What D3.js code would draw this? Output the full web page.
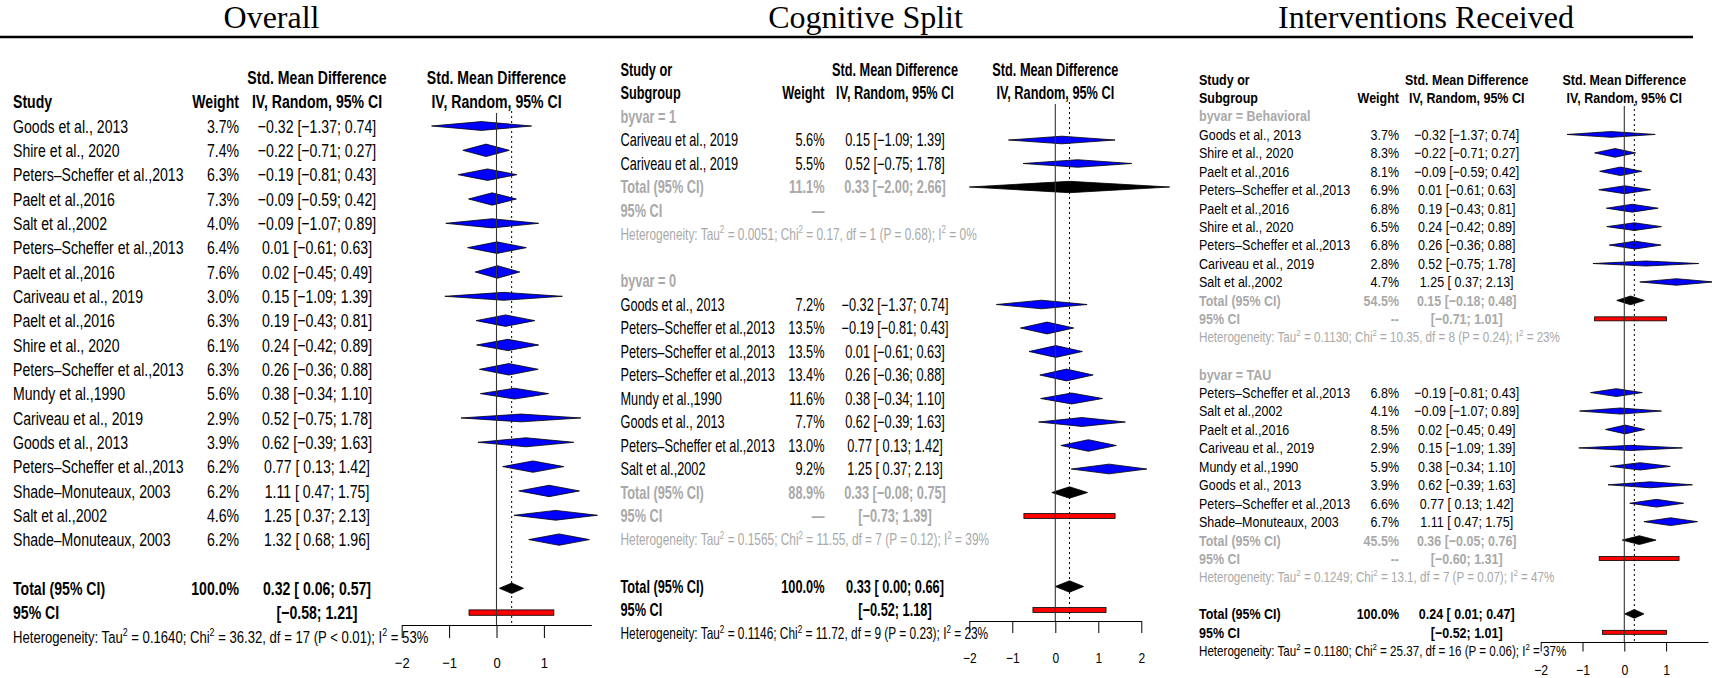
<!DOCTYPE html>
<html>
<head>
<meta charset="utf-8">
<script src="https://cdn.jsdelivr.net/npm/d3@7"></script>
<style>
  body { margin: 0; background: #fff; }
  svg { display: block; }
</style>
</head>
<body>
<svg id="chart" width="1712" height="678"></svg>
<script>
// ---------- data: Overall ----------
const overallStudies = ["Goods et al., 2013", "Shire et al., 2020", "Peters\u2013Scheffer et al.,2013", "Paelt et al.,2016",
  "Salt et al.,2002", "Peters\u2013Scheffer et al.,2013", "Paelt et al.,2016", "Cariveau et al., 2019", "Paelt et al.,2016",
  "Shire et al., 2020", "Peters\u2013Scheffer et al.,2013", "Mundy et al.,1990", "Cariveau et al., 2019", "Goods et al., 2013",
  "Peters\u2013Scheffer et al.,2013", "Shade\u2013Monuteaux, 2003", "Salt et al.,2002", "Shade\u2013Monuteaux, 2003"];
const overallWeight = [3.7, 7.4, 6.3, 7.3, 4.0, 6.4, 7.6, 3.0, 6.3, 6.1, 6.3, 5.6, 2.9, 3.9, 6.2, 6.2, 4.6, 6.2];
const overallTE = [-0.32, -0.22, -0.19, -0.09, -0.09, 0.01, 0.02, 0.15, 0.19, 0.24, 0.26, 0.38, 0.52, 0.62, 0.77, 1.11, 1.25, 1.32];
const overallLower = [-1.37, -0.71, -0.81, -0.59, -1.07, -0.61, -0.45, -1.09, -0.43, -0.42, -0.36, -0.34, -0.75, -0.39, 0.13, 0.47, 0.37, 0.68];
const overallUpper = [0.74, 0.27, 0.43, 0.42, 0.89, 0.63, 0.49, 1.39, 0.81, 0.89, 0.88, 1.10, 1.78, 1.63, 1.42, 1.75, 2.13, 1.96];
const overallTotal = [100.0, 0.32, 0.06, 0.57];   // weight, te, lower, upper
const overallPI = [-0.58, 1.21];
const overallHet = ["0.1640", "36.32", "17", "P < 0.01", "53%"];

// ---------- data: Cognitive Split ----------
const cogStudies = ["Cariveau et al., 2019", "Cariveau et al., 2019", "Goods et al., 2013", "Peters\u2013Scheffer et al.,2013",
  "Peters\u2013Scheffer et al.,2013", "Peters\u2013Scheffer et al.,2013", "Mundy et al.,1990", "Goods et al., 2013",
  "Peters\u2013Scheffer et al.,2013", "Salt et al.,2002"];
const cogGroup = ["1", "1", "0", "0", "0", "0", "0", "0", "0", "0"];
const cogWeight = [5.6, 5.5, 7.2, 13.5, 13.5, 13.4, 11.6, 7.7, 13.0, 9.2];
const cogTE = [0.15, 0.52, -0.32, -0.19, 0.01, 0.26, 0.38, 0.62, 0.77, 1.25];
const cogLower = [-1.09, -0.75, -1.37, -0.81, -0.61, -0.36, -0.34, -0.39, 0.13, 0.37];
const cogUpper = [1.39, 1.78, 0.74, 0.43, 0.63, 0.88, 1.10, 1.63, 1.42, 2.13];
const cogSubgroups = ["1", "0"];
const cogSubTotal = [[11.1, 0.33, -2.00, 2.66], [88.9, 0.33, -0.08, 0.75]];
const cogSubPI = [null, [-0.73, 1.39]];
const cogSubHet = [["0.0051", "0.17", "1", "P = 0.68", "0%"], ["0.1565", "11.55", "7", "P = 0.12", "39%"]];
const cogTotal = [100.0, 0.33, 0.00, 0.66];
const cogPI = [-0.52, 1.18];
const cogHet = ["0.1146", "11.72", "9", "P = 0.23", "23%"];

// ---------- data: Interventions Received ----------
const intStudies = ["Goods et al., 2013", "Shire et al., 2020", "Paelt et al.,2016", "Peters\u2013Scheffer et al.,2013",
  "Paelt et al.,2016", "Shire et al., 2020", "Peters\u2013Scheffer et al.,2013", "Cariveau et al., 2019", "Salt et al.,2002",
  "Peters\u2013Scheffer et al.,2013", "Salt et al.,2002", "Paelt et al.,2016", "Cariveau et al., 2019", "Mundy et al.,1990",
  "Goods et al., 2013", "Peters\u2013Scheffer et al.,2013", "Shade\u2013Monuteaux, 2003"];
const intGroup = ["Behavioral", "Behavioral", "Behavioral", "Behavioral", "Behavioral", "Behavioral", "Behavioral", "Behavioral", "Behavioral",
  "TAU", "TAU", "TAU", "TAU", "TAU", "TAU", "TAU", "TAU"];
const intWeight = [3.7, 8.3, 8.1, 6.9, 6.8, 6.5, 6.8, 2.8, 4.7, 6.8, 4.1, 8.5, 2.9, 5.9, 3.9, 6.6, 6.7];
const intTE = [-0.32, -0.22, -0.09, 0.01, 0.19, 0.24, 0.26, 0.52, 1.25, -0.19, -0.09, 0.02, 0.15, 0.38, 0.62, 0.77, 1.11];
const intLower = [-1.37, -0.71, -0.59, -0.61, -0.43, -0.42, -0.36, -0.75, 0.37, -0.81, -1.07, -0.45, -1.09, -0.34, -0.39, 0.13, 0.47];
const intUpper = [0.74, 0.27, 0.42, 0.63, 0.81, 0.89, 0.88, 1.78, 2.13, 0.43, 0.89, 0.49, 1.39, 1.10, 1.63, 1.42, 1.75];
const intSubgroups = ["Behavioral", "TAU"];
const intSubTotal = [[54.5, 0.15, -0.18, 0.48], [45.5, 0.36, -0.05, 0.76]];
const intSubPI = [[-0.71, 1.01], [-0.60, 1.31]];
const intSubHet = [["0.1130", "10.35", "8", "P = 0.24", "23%"], ["0.1249", "13.1", "7", "P = 0.07", "47%"]];
const intTotal = [100.0, 0.24, 0.01, 0.47];
const intPI = [-0.52, 1.01];
const intHet = ["0.1180", "25.37", "16", "P = 0.06", "37%"];

const axisTicksOverall = [-2, -1, 0, 1];
const axisTicksCog = [-2, -1, 0, 1, 2];
const axisTicksInt = [-2, -1, 0, 1];

// ---------- helpers ----------
const MINUS = "\u2212";
const GRAY = "#a9a9a9";
const SANS = "'Liberation Sans', Arial, Helvetica, sans-serif";
const SERIF = "'Liberation Serif', 'Times New Roman', serif";

const svg = d3.select("#chart");

function fmt(v) { return (v < 0 ? MINUS : "") + Math.abs(v).toFixed(2); }
function fmtLo(v) { return v < 0 ? MINUS + Math.abs(v).toFixed(2) : " " + v.toFixed(2); }
function ciText(te, lo, hi) { return `${fmt(te)} [${fmtLo(lo)}; ${fmt(hi)}]`; }
function piText(lo, hi) { return `[${fmtLo(lo)}; ${fmt(hi)}]`; }

function studyRow(name, w, te, lo, hi) {
    return { kind: "study", label: name, w: w, te: te, lo: lo, hi: hi };
}

function totalRows(tot, pi, het, sub, dash) {
    return [
        { kind: "total", label: "Total (95% CI)", w: tot[0], te: tot[1], lo: tot[2], hi: tot[3], sub: sub },
        { kind: "pi", label: "95% CI", pi: pi, dash: dash, sub: sub },
        { kind: "het", het: het, sub: sub }
    ];
}

function groupedRows(names, group, w, te, lo, hi, subs, subTot, subPI, subHet, dash, tot, pi, het) {
    const rows = [];
    subs.forEach((g, k) => {
        rows.push({ kind: "sublabel", label: "byvar = " + g });
        names.forEach((s, i) => { if (group[i] === g) rows.push(studyRow(s, w[i], te[i], lo[i], hi[i])); });
        rows.push(...totalRows(subTot[k], subPI[k], subHet[k], true, dash));
        rows.push({ kind: "blank" });
    });
    rows.push(...totalRows(tot, pi, het, false, null));
    return rows;
}

// text with separate vertical size and horizontal squeeze (narrow font look)
function addText(g, L, x, y, str, o = {}) {
    const k = o.k || 1;
    const size = L.fv * k;
    return g.append("text")
        .attr("transform", `translate(${x},${y + 0.36 * size}) scale(${L.fh / L.fv},1)`)
        .attr("text-anchor", o.anchor || "start")
        .attr("font-family", SANS)
        .attr("font-size", size)
        .attr("font-weight", o.bold ? "bold" : "normal")
        .attr("fill", o.color || "#000")
        .attr("xml:space", "preserve")
        .text(str);
}

function addHet(g, L, x, y, h, color) {
    const size = L.fv * 0.93;
    const t = g.append("text")
        .attr("transform", `translate(${x},${y + 0.36 * size}) scale(${L.fh / L.fv},1)`)
        .attr("font-family", SANS)
        .attr("font-size", size)
        .attr("fill", color);
    const parts = ["Heterogeneity: Tau", `\u00a0= ${h[0]}; Chi`, `\u00a0= ${h[1]}, df = ${h[2]} (${h[3]}); I`, `\u00a0= ${h[4]}`];
    parts.forEach((p, i) => {
        t.append("tspan").attr("dy", i === 0 ? 0 : 0.42 * size).text(p);
        if (i < parts.length - 1) {
            t.append("tspan").attr("dy", -0.42 * size).attr("font-size", size * 0.68).text("2");
        }
    });
}

function diamond(lo, te, hi, y, h) {
    return `M${lo},${y}L${te},${y - h}L${hi},${y}L${te},${y + h}Z`;
}

// ---------- panel ----------
function drawPanel(L, rows) {
    const g = svg.append("g");
    const x = d3.scaleLinear().domain([-2, 2]).range([L.zero - 2 * L.unit, L.zero + 2 * L.unit]);
    const y = d3.scaleLinear().domain([0, 1]).range([L.y0, L.y0 + L.pitch]);
    const wMax = d3.max(rows.filter(r => r.kind === "study"), r => r.w);

    // title
    svg.append("text")
        .attr("x", L.titleX).attr("y", 28)
        .attr("text-anchor", "middle")
        .attr("font-family", SERIF)
        .attr("font-size", 32)
        .text(L.title);

    // column headings
    const hb = { bold: true };
    if (L.grouped) {
        addText(g, L, L.studyX, y(-2), "Study or", hb);
        addText(g, L, L.studyX, y(-1), "Subgroup", hb);
    } else {
        addText(g, L, L.studyX, y(-1), "Study", hb);
    }
    addText(g, L, L.weightX, y(-1), "Weight", { bold: true, anchor: "end" });
    addText(g, L, L.ciX, y(-2), "Std. Mean Difference", { bold: true, anchor: "middle" });
    addText(g, L, L.ciX, y(-1), "IV, Random, 95% CI", { bold: true, anchor: "middle" });
    addText(g, L, x(0), y(-2), "Std. Mean Difference", { bold: true, anchor: "middle" });
    addText(g, L, x(0), y(-1), "IV, Random, 95% CI", { bold: true, anchor: "middle" });

    const marks = g.append("g");

    rows.forEach((r, i) => {
        const yy = y(i);
        const col = r.sub ? GRAY : "#000";
        if (r.kind === "sublabel") {
            addText(g, L, L.studyX, yy, r.label, { bold: true, color: GRAY });
        } else if (r.kind === "study") {
            addText(g, L, L.studyX, yy, r.label);
            addText(g, L, L.weightX, yy, r.w.toFixed(1) + "%", { anchor: "end" });
            addText(g, L, L.ciX, yy, ciText(r.te, r.lo, r.hi), { anchor: "middle" });
            marks.append("path")
                .attr("d", diamond(x(r.lo), x(r.te), x(r.hi), yy, L.studyH * Math.sqrt(r.w / wMax)))
                .attr("fill", "#0000ff")
                .attr("stroke", "#000")
                .attr("stroke-width", 0.8);
        } else if (r.kind === "total") {
            addText(g, L, L.studyX, yy, r.label, { bold: true, color: col });
            addText(g, L, L.weightX, yy, r.w.toFixed(1) + "%", { bold: true, color: col, anchor: "end" });
            addText(g, L, L.ciX, yy, ciText(r.te, r.lo, r.hi), { bold: true, color: col, anchor: "middle" });
            marks.append("path")
                .attr("d", diamond(x(r.lo), x(r.te), x(r.hi), yy, L.sumH))
                .attr("fill", "#000")
                .attr("stroke", "#000")
                .attr("stroke-width", 0.8);
        } else if (r.kind === "pi") {
            addText(g, L, L.studyX, yy, r.label, { bold: true, color: col });
            if (r.dash) addText(g, L, L.weightX, yy, r.dash, { bold: true, color: col, anchor: "end" });
            if (r.pi) {
                addText(g, L, L.ciX, yy, piText(r.pi[0], r.pi[1]), { bold: true, color: col, anchor: "middle" });
                marks.append("rect")
                    .attr("x", x(r.pi[0]))
                    .attr("y", yy - L.piH)
                    .attr("width", x(r.pi[1]) - x(r.pi[0]))
                    .attr("height", 2 * L.piH)
                    .attr("fill", "#ff0000")
                    .attr("stroke", "#000")
                    .attr("stroke-width", 0.8);
            }
        } else if (r.kind === "het") {
            addHet(g, L, L.studyX, yy, r.het, col);
        }
    });

    // reference line at 0 and dotted line at the overall estimate
    const totalRow = rows[rows.length - 3];
    g.append("line")
        .attr("x1", x(0)).attr("x2", x(0))
        .attr("y1", L.lineTop).attr("y2", L.axisY)
        .attr("stroke", "#333").attr("stroke-width", 1.1);
    g.append("line")
        .attr("x1", x(totalRow.te)).attr("x2", x(totalRow.te))
        .attr("y1", L.lineTop - 2).attr("y2", L.axisY)
        .attr("stroke", "#000").attr("stroke-width", 1)
        .attr("stroke-dasharray", "2,3");

    // x axis
    const axis = d3.axisBottom(x)
        .tickValues(L.ticks)
        .tickSize(L.tickLen)
        .tickSizeOuter(0)
        .tickFormat(d => d < 0 ? MINUS + Math.abs(d) : String(d));
    const ax = g.append("g")
        .attr("transform", `translate(0,${L.axisY})`)
        .call(axis);
    ax.select(".domain").attr("stroke", "#000").attr("stroke-width", 1);
    ax.selectAll(".tick line").attr("stroke", "#000").attr("stroke-width", 1);
    ax.selectAll(".tick text")
        .attr("fill", "#000")
        .attr("font-family", SANS)
        .attr("font-size", L.tickFv)
        .attr("y", L.tickLabelY - L.axisY)
        .attr("dy", 0)
        .attr("transform", `scale(${L.tickFh / L.tickFv},1)`);
}

// ---------- layouts ----------
const layoutOverall = { title: "Overall", titleX: 271.5, grouped: false,
    studyX: 13, weightX: 239, ciX: 317, zero: 496.5, unit: 47.4,
    y0: 126, pitch: 24.33, fv: 18.5, fh: 14.1,
    studyH: 6.3, sumH: 5.2, piH: 2.7, lineTop: 113,
    axisY: 625, tickLen: 13, tickLabelY: 668, ticks: axisTicksOverall, tickFv: 15, tickFh: 13 };
const layoutCog = { title: "Cognitive Split", titleX: 865.5, grouped: true,
    studyX: 620.5, weightX: 824.5, ciX: 895, zero: 1055.3, unit: 43,
    y0: 116.5, pitch: 23.5, fv: 17.5, fh: 12.76,
    studyH: 5.9, sumH: 5.7, piH: 2.4, lineTop: 104,
    axisY: 621, tickLen: 12, tickLabelY: 663, ticks: axisTicksCog, tickFv: 14.5, tickFh: 12 };
const layoutInt = { title: "Interventions Received", titleX: 1426, grouped: true,
    studyX: 1199, weightX: 1399, ciX: 1466.7, zero: 1624.3, unit: 41.8,
    y0: 116, pitch: 18.44, fv: 15, fh: 12.5,
    studyH: 4.4, sumH: 4.4, piH: 2, lineTop: 106,
    axisY: 642, tickLen: 9.5, tickLabelY: 675, ticks: axisTicksInt, tickFv: 14.5, tickFh: 12.3 };

// title rule
svg.append("line")
    .attr("x1", 0).attr("x2", 1693)
    .attr("y1", 37).attr("y2", 37)
    .attr("stroke", "#000").attr("stroke-width", 2.5);

const overallRows = overallStudies.map((s, i) => studyRow(s, overallWeight[i], overallTE[i], overallLower[i], overallUpper[i]));
overallRows.push({ kind: "blank" });
overallRows.push(...totalRows(overallTotal, overallPI, overallHet, false, null));

drawPanel(layoutOverall, overallRows);
drawPanel(layoutCog, groupedRows(cogStudies, cogGroup, cogWeight, cogTE, cogLower, cogUpper,
    cogSubgroups, cogSubTotal, cogSubPI, cogSubHet, "\u2014", cogTotal, cogPI, cogHet));
drawPanel(layoutInt, groupedRows(intStudies, intGroup, intWeight, intTE, intLower, intUpper,
    intSubgroups, intSubTotal, intSubPI, intSubHet, "--", intTotal, intPI, intHet));
</script>
</body>
</html>
